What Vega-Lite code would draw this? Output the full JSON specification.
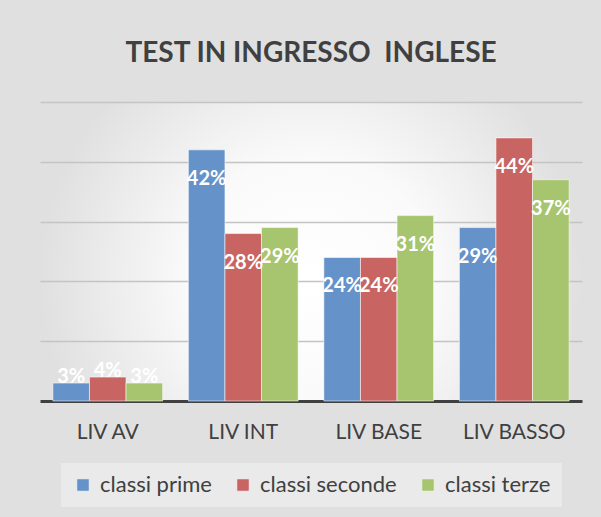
{
  "$schema": "https://vega.github.io/schema/vega-lite/v6.json",
  "width": 542,
  "height": 299,
  "autosize": {"type": "none"},
  "padding": {"left": 40, "top": 102, "right": 19, "bottom": 116},
  "background": "#e0e0e0",
  "title": {
    "text": "TEST IN INGRESSO\u00a0 INGLESE",
    "font": "Lato",
    "fontSize": 28,
    "fontWeight": "bold",
    "color": "#404040",
    "anchor": "middle",
    "baseline": "alphabetic",
    "offset": 12,
    "frame": "group"
  },
  "data": {
    "values": [
      {"livello": "LIV AV", "classe": "classi prime", "valore": 0.03},
      {"livello": "LIV AV", "classe": "classi seconde", "valore": 0.04},
      {"livello": "LIV AV", "classe": "classi terze", "valore": 0.03},
      {"livello": "LIV INT", "classe": "classi prime", "valore": 0.42},
      {"livello": "LIV INT", "classe": "classi seconde", "valore": 0.28},
      {"livello": "LIV INT", "classe": "classi terze", "valore": 0.29},
      {"livello": "LIV BASE", "classe": "classi prime", "valore": 0.24},
      {"livello": "LIV BASE", "classe": "classi seconde", "valore": 0.24},
      {"livello": "LIV BASE", "classe": "classi terze", "valore": 0.31},
      {"livello": "LIV BASSO", "classe": "classi prime", "valore": 0.29},
      {"livello": "LIV BASSO", "classe": "classi seconde", "valore": 0.44},
      {"livello": "LIV BASSO", "classe": "classi terze", "valore": 0.37}
    ]
  },
  "encoding": {
    "x": {
      "field": "livello",
      "type": "nominal",
      "sort": ["LIV AV", "LIV INT", "LIV BASE", "LIV BASSO"],
      "scale": {"paddingInner": 0.19, "paddingOuter": 0.095},
      "axis": {
        "title": null,
        "labelAngle": 0,
        "labelFont": "Lato",
        "labelFontSize": 21,
        "labelColor": "#404040",
        "labelPadding": 20,
        "ticks": false,
        "domainColor": "#404040",
        "domainWidth": 3,
        "grid": false
      }
    },
    "xOffset": {"field": "classe", "type": "nominal", "sort": ["classi prime", "classi seconde", "classi terze"]},
    "y": {
      "field": "valore",
      "type": "quantitative",
      "scale": {"domain": [0, 0.5]},
      "axis": {
        "title": null,
        "labels": false,
        "ticks": false,
        "domain": false,
        "values": [0.1, 0.2, 0.3, 0.4, 0.5],
        "gridColor": "#c4c4c4",
        "gridWidth": 1.5
      }
    }
  },
  "layer": [
    {
      "mark": {"type": "bar", "stroke": "#ffffff", "strokeOpacity": 0.55, "strokeWidth": 1},
      "encoding": {
        "color": {
          "field": "classe",
          "type": "nominal",
          "sort": ["classi prime", "classi seconde", "classi terze"],
          "scale": {"domain": ["classi prime", "classi seconde", "classi terze"], "range": ["#6592c8", "#c86562", "#a7c46f"]},
          "legend": {
            "title": null,
            "orient": "none",
            "legendX": 21,
            "legendY": 361,
            "direction": "horizontal",
            "columns": 3,
            "padding": 11,
            "fillColor": "#eaeaea",
            "symbolType": "square",
            "symbolSize": 150,
            "symbolStrokeColor": "#ffffff",
            "symbolStrokeWidth": 0.5,
            "labelFont": "Lato",
            "labelFontSize": 22,
            "labelColor": "#404040",
            "labelOffset": 6,
            "columnPadding": 20
          }
        }
      }
    },
    {
      "transform": [{"filter": "datum.valore >= 0.1"}],
      "mark": {"type": "text", "font": "Lato", "fontSize": 20, "fontWeight": "bold", "color": "#ffffff", "baseline": "alphabetic", "dy": 35},
      "encoding": {"text": {"field": "valore", "type": "quantitative", "format": ".0%"}}
    },
    {
      "transform": [{"filter": "datum.valore < 0.1"}],
      "mark": {"type": "text", "font": "Lato", "fontSize": 20, "fontWeight": "bold", "color": "#ffffff", "baseline": "alphabetic", "dy": 0},
      "encoding": {"text": {"field": "valore", "type": "quantitative", "format": ".0%"}}
    }
  ],
  "config": {
    "view": {
      "stroke": null,
      "fill": {
        "gradient": "radial",
        "x1": 0.5, "y1": 0.55, "r1": 0,
        "x2": 0.5, "y2": 0.55, "r2": 0.5,
        "stops": [
          {"offset": 0, "color": "#ffffff"},
          {"offset": 0.45, "color": "#fafafa"},
          {"offset": 1, "color": "#e0e0e0"}
        ]
      }
    }
  }
}
